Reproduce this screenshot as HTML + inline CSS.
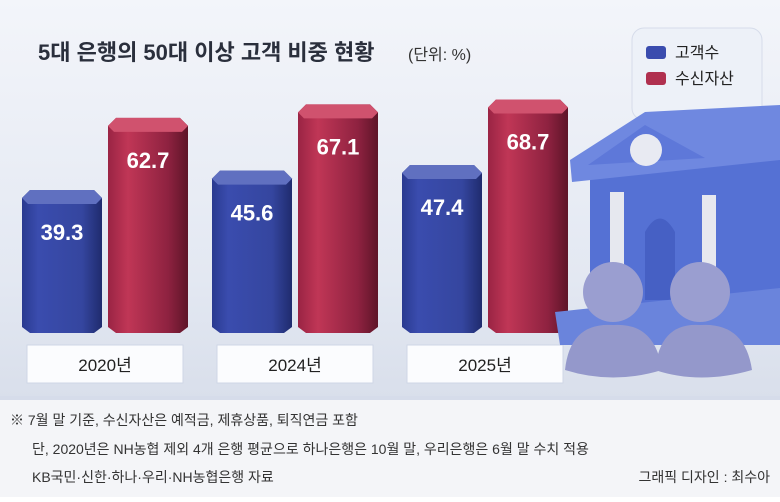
<!DOCTYPE html>
<html><head><meta charset="utf-8"><style>
body{margin:0;width:780px;height:497px;overflow:hidden;font-family:"Liberation Sans","Noto Sans CJK KR",sans-serif;background:#fff}
</style></head><body>
<svg width="780" height="497" xmlns="http://www.w3.org/2000/svg">
<defs>
<linearGradient id="bg" x1="0" y1="0" x2="0" y2="1"><stop offset="0" stop-color="#f3f5fa"/><stop offset="0.7" stop-color="#e3e8f2"/><stop offset="1" stop-color="#d9dfeb"/></linearGradient>
<linearGradient id="gb" x1="0" y1="0" x2="1" y2="0"><stop offset="0" stop-color="#2a3a8f"/><stop offset="0.2" stop-color="#3a4cae"/><stop offset="0.75" stop-color="#35469f"/><stop offset="1" stop-color="#1f2b6e"/></linearGradient>
<linearGradient id="gr" x1="0" y1="0" x2="1" y2="0"><stop offset="0" stop-color="#9a2444"/><stop offset="0.25" stop-color="#c03656"/><stop offset="0.75" stop-color="#8e2240"/><stop offset="1" stop-color="#5e1528"/></linearGradient>
</defs>
<rect x="0" y="0" width="780" height="398" fill="url(#bg)"/>
<rect x="0" y="398" width="780" height="99" fill="#f4f5f8"/>
<rect x="0" y="396" width="780" height="4" fill="#d6dcea"/>
<text x="38" y="60" font-size="22" font-weight="bold" fill="#2a2f3c">5대 은행의 50대 이상 고객 비중 현황</text>
<text x="408" y="60" font-size="16" fill="#333">(단위: %)</text>
<g>
<rect x="632" y="28" width="130" height="92" rx="12" fill="#edf1f8" stroke="#d6dcea"/>
<rect x="646" y="46" width="20" height="13" rx="3" fill="#3a4cae"/>
<text x="675" y="58" font-size="16" fill="#222">고객수</text>
<rect x="646" y="72" width="20" height="13" rx="3" fill="#b0304f"/>
<text x="675" y="84" font-size="16" fill="#222">수신자산</text>
</g>
<g id="bars"></g>
<g>
<path d="M590 170 L780 150 L780 330 L590 330 Z" fill="#5571d4"/>
<path d="M570 160 L645 112 L780 105 L780 160 L572 182 Z" fill="#6f88e0"/>
<path d="M588 165 L645 125 L705 158 Z" fill="#5e78d9"/>
<circle cx="646" cy="150" r="16" fill="#e8eaf2"/>
<rect x="610" y="192" width="14" height="110" fill="#e6e8ef"/>
<rect x="702" y="195" width="14" height="105" fill="#e6e8ef"/>
<path d="M645 300 L645 232 Q660 205 675 232 L675 300 Z" fill="#4660c4"/>
<path d="M555 312 L780 288 L780 345 L560 345 Z" fill="#6a84dc"/>
<circle cx="613" cy="292" r="30" fill="#9a9ed0"/>
<circle cx="700" cy="292" r="30" fill="#9a9ed0"/>
<path d="M565 370 Q570 322 613 325 Q655 322 662 370 Q613 385 565 370 Z" fill="#9498cb"/>
<path d="M655 370 Q660 322 700 325 Q745 322 752 370 Q700 385 655 370 Z" fill="#9498cb"/>
</g>
<g font-size="14" fill="#333">
<text x="10" y="425">※ 7월 말 기준, 수신자산은 예적금, 제휴상품, 퇴직연금 포함</text>
<text x="32" y="454">단, 2020년은 NH농협 제외 4개 은행 평균으로 하나은행은 10월 말, 우리은행은 6월 말 수치 적용</text>
<text x="32" y="482">KB국민·신한·하나·우리·NH농협은행 자료</text>
<text x="770" y="482" text-anchor="end">그래픽 디자인 : 최수아</text>
</g>
</svg>
<script>
const categories=["2020년","2024년","2025년"];
const customers=[39.3,45.6,47.4];
const deposits=[62.7,67.1,68.7];
const ns="http://www.w3.org/2000/svg";
const g=document.getElementById('bars');
const base=333;
function y(v){return 190-(v-39.3)*3.08;}
function mk(t,a){const e=document.createElementNS(ns,t);for(const k in a)e.setAttribute(k,a[k]);return e;}
function bar(x,v,fill,cap,name){
  const top=y(v),w=80,c=8;
  const p=mk('path',{d:`M${x} ${top+c} L${x+c} ${top} L${x+w-c} ${top} L${x+w} ${top+c} L${x+w} ${base-6} L${x+w-c} ${base} L${x+c} ${base} L${x} ${base-6} Z`,fill:fill});
  
  
  g.appendChild(p);
  g.appendChild(mk('path',{d:`M${x} ${top+c} L${x+c} ${top} L${x+w-c} ${top} L${x+w} ${top+c} L${x+w-6} ${top+14} L${x+6} ${top+14} Z`,fill:cap}));
  const t=mk('text',{x:x+w/2,y:top+50,'text-anchor':'middle','font-size':'22','font-weight':'bold',fill:'#fff'});
  t.textContent=v.toFixed(1);
  
  
  g.appendChild(t);
}
categories.forEach((c,i)=>{
  const gx=22+i*190;
  bar(gx,customers[i],'url(#gb)','#6070c0','bar-customers-'+i);
  bar(gx+86,deposits[i],'url(#gr)','#d0526e','bar-deposits-'+i);
  const r=mk('rect',{x:gx+5,y:345,width:156,height:38,fill:'#fbfcfe',stroke:'#cfd6e6'});
  
  
  g.appendChild(r);
  const t=mk('text',{x:gx+83,y:371,'text-anchor':'middle','font-size':'17',fill:'#222'});
  t.textContent=c;
  
  
  g.appendChild(t);
});
</script>
</body></html>
